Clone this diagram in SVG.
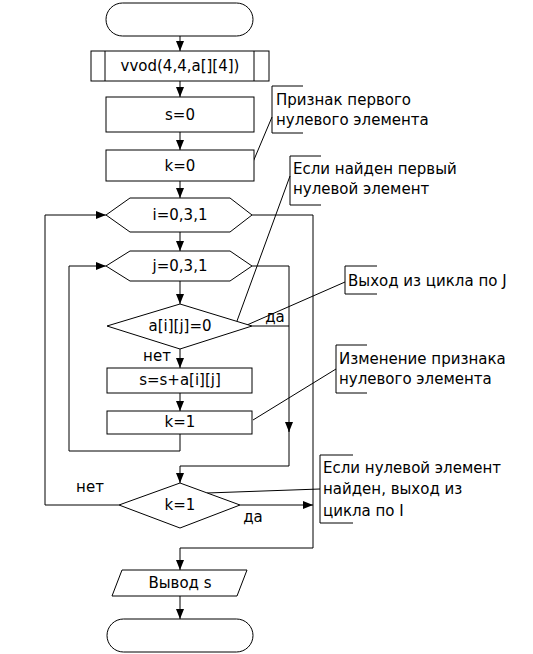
<svg xmlns="http://www.w3.org/2000/svg" width="533" height="654" viewBox="0 0 533 654">
<style>
.s{fill:#fff;stroke:#000;stroke-width:1}
.c{fill:none;stroke:#000;stroke-width:1}
.t{font-family:"DejaVu Sans","Liberation Sans",sans-serif;font-size:15px;fill:#000}
.m{text-anchor:middle;dominant-baseline:central}
</style>
<defs>
<marker id="a" markerUnits="userSpaceOnUse" markerWidth="10" markerHeight="10" viewBox="0 0 10 10" refX="10" refY="5" orient="auto">
<path d="M0,1 L10,5 L0,9 Z" fill="#000"/>
</marker>
</defs>
<rect width="533" height="654" fill="#fff"/>
<g id="connectors">
<path class="c" d="M180,36 V51" marker-end="url(#a)"/>
<path class="c" d="M180,81 V97" marker-end="url(#a)"/>
<path class="c" d="M180,132 V150" marker-end="url(#a)"/>
<path class="c" d="M180,181 V198" marker-end="url(#a)"/>
<path class="c" d="M180,232 V251" marker-end="url(#a)"/>
<path class="c" d="M180,281 V304" marker-end="url(#a)"/>
<path class="c" d="M180,349 V368" marker-end="url(#a)"/>
<path class="c" d="M180,393 V411" marker-end="url(#a)"/>
<path class="c" d="M252,215 H313 V548 H180 V570" marker-end="url(#a)"/>
<path class="c" d="M119,505 H45 V215 H106" marker-end="url(#a)"/>
<path class="c" d="M252,266 H289 V432" marker-end="url(#a)"/>
<path class="c" d="M289,430 V466 H180 V483" marker-end="url(#a)"/>
<path class="c" d="M252,326 H289"/>
<path class="c" d="M180,434 V451 H69 V266 H106" marker-end="url(#a)"/>
<path class="c" d="M240,505 H313" marker-end="url(#a)"/>
<path class="c" d="M180,596 V619" marker-end="url(#a)"/>
<path class="c" d="M272,117 L253,162"/>
<path class="c" d="M290,176 L237,321"/>
<path class="c" d="M345,282 L231,332"/>
<path class="c" d="M336,369 L253,420"/>
<path class="c" d="M207,493 L320,489"/>
</g>
<g id="start"><rect class="s" x="106" y="3" width="147" height="33" rx="16.5"/></g>
<g id="vvod">
<rect class="s" x="91" y="51" width="178" height="30"/>
<path class="c" d="M105,51 V81 M254,51 V81"/>
<text class="t m" x="180" y="66">vvod(4,4,a[][4])</text>
</g>
<g id="s0"><rect class="s" x="106" y="97" width="148" height="35"/><text class="t m" x="180" y="115">s=0</text></g>
<g id="k0"><rect class="s" x="106" y="150" width="148" height="31"/><text class="t m" x="180" y="166">k=0</text></g>
<g id="loopI"><polygon class="s" points="106,215 130,198 230,198 252,215 230,232 130,232"/><text class="t m" x="180" y="215">i=0,3,1</text></g>
<g id="loopJ"><polygon class="s" points="106,266 130,251 230,251 252,266 230,281 130,281"/><text class="t m" x="180" y="266">j=0,3,1</text></g>
<g id="cond1"><polygon class="s" points="107,326 180,304 252,326 180,349"/><text class="t m" x="180" y="326">a[i][j]=0</text></g>
<g id="sum"><rect class="s" x="107" y="368" width="145" height="25"/><text class="t m" x="180" y="380">s=s+a[i][j]</text></g>
<g id="k1"><rect class="s" x="107" y="411" width="145" height="23"/><text class="t m" x="180" y="422">k=1</text></g>
<g id="cond2"><polygon class="s" points="119,505 180,483 240,505 180,528"/><text class="t m" x="180" y="505">k=1</text></g>
<g id="out"><polygon class="s" points="122,570 247,570 237,596 112,596"/><text class="t m" x="180" y="583">Вывод s</text></g>
<g id="end"><rect class="s" x="107" y="619" width="146" height="33" rx="16.5"/></g>
<g id="labels">
<text class="t m" x="275" y="317">да</text>
<text class="t m" x="157" y="356">нет</text>
<text class="t m" x="90" y="487">нет</text>
<text class="t m" x="253" y="517">да</text>
</g>
<g id="note1"><path class="c" d="M303,86 H272 V133 H303"/><text class="t" x="276" y="105">Признак первого</text><text class="t" x="276" y="125">нулевого элемента</text></g>
<g id="note2"><path class="c" d="M321,156 H290 V205 H321"/><text class="t" x="293" y="174">Если найден первый</text><text class="t" x="293" y="194">нулевой элемент</text></g>
<g id="note3"><path class="c" d="M377,266 H345 V294 H377"/><text class="t" x="348" y="286">Выход из цикла по J</text></g>
<g id="note4"><path class="c" d="M367,345 H336 V393 H367"/><text class="t" x="339" y="364">Изменение признака</text><text class="t" x="339" y="384">нулевого элемента</text></g>
<g id="note5"><path class="c" d="M353,455 H320 V523 H353"/><text class="t" x="323" y="473">Если нулевой элемент</text><text class="t" x="323" y="494">найден, выход из</text><text class="t" x="323" y="516">цикла по I</text></g>
</svg>
